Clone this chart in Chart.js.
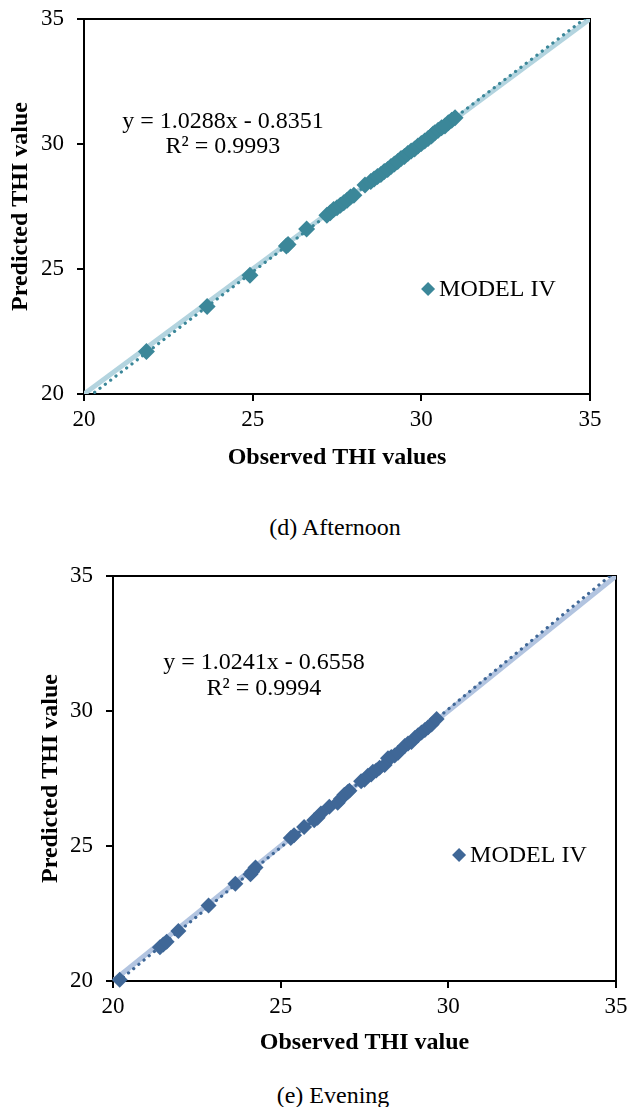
<!DOCTYPE html>
<html>
<head>
<meta charset="utf-8">
<script src="https://cdn.jsdelivr.net/npm/chart.js@4.4.1/dist/chart.umd.min.js"></script>
<style>
  html, body { margin: 0; padding: 0; background: #fff; }
  body { position: relative; width: 629px; height: 1107px; overflow: hidden; }
  canvas { position: absolute; left: 0; }
  .caption {
    position: absolute; left: 0; text-align: center;
    font-family: "Liberation Serif", "Times New Roman", serif;
    font-size: 24px; line-height: 28px; color: #000;
  }
</style>
</head>
<body>
<canvas id="afternoon" width="629" height="472" style="top:0px;width:629px;height:472px"></canvas>
<div class="caption" style="top:513px;width:670px">(d) Afternoon</div>
<canvas id="evening" width="629" height="497" style="top:560px;width:629px;height:497px"></canvas>
<div class="caption" style="top:1081px;width:666px">(e) Evening</div>
<script>
// axis range and ticks shared by both panels
const axisMin = 20;
const axisMax = 35;
const tickStep = 5;

// (d) afternoon: observed vs predicted THI
const afternoonObserved = [21.85, 23.65, 24.92, 26.0, 26.05, 26.6, 27.2, 27.3, 27.4, 27.5, 27.6, 27.7, 27.8, 27.9, 28.0,
  28.33, 28.5, 28.6, 28.7, 28.8, 28.9, 29.0, 29.1, 29.2, 29.3, 29.4, 29.5, 29.6, 29.7, 29.8, 29.9, 30.0,
  30.1, 30.2, 30.3, 30.35, 30.4, 30.5, 30.6, 30.7, 30.8, 30.9, 31.0];
const afternoonPredicted = [21.7, 23.5, 24.75, 25.92, 25.98, 26.6, 27.15, 27.25, 27.38, 27.45, 27.55, 27.65, 27.75, 27.88, 27.95,
  28.36, 28.5, 28.6, 28.7, 28.78, 28.9, 28.98, 29.1, 29.2, 29.3, 29.42, 29.5, 29.62, 29.72, 29.8, 29.92, 30.02,
  30.12, 30.22, 30.32, 30.4, 30.45, 30.55, 30.65, 30.72, 30.85, 30.95, 31.05];
const afternoonSlope = 1.0288;
const afternoonIntercept = -0.8351;
const afternoonR2 = 0.9993;

// (e) evening: observed vs predicted THI
const eveningObserved = [20.2, 21.4, 21.5, 21.6, 21.95, 22.85, 23.65, 24.1, 24.15, 24.25, 25.3, 25.4, 25.7, 26.0, 26.1,
  26.2, 26.45, 26.7, 26.8, 26.9, 27.0, 27.05, 27.4, 27.5, 27.6, 27.7, 27.75, 27.85, 27.95, 28.1, 28.2,
  28.3, 28.4, 28.5, 28.7, 28.8, 28.9, 29.0, 29.1, 29.2, 29.3, 29.4, 29.5, 29.65];
const eveningPredicted = [20.05, 21.25, 21.35, 21.45, 21.85, 22.8, 23.6, 23.95, 24.05, 24.2, 25.3, 25.4, 25.7, 25.95, 26.05,
  26.2, 26.45, 26.6, 26.75, 26.9, 27.0, 27.05, 27.4, 27.45, 27.6, 27.65, 27.75, 27.8, 27.9, 28.0, 28.25,
  28.3, 28.35, 28.45, 28.7, 28.8, 28.85, 29.0, 29.1, 29.2, 29.3, 29.4, 29.5, 29.7];
const eveningSlope = 1.0241;
const eveningIntercept = -0.6558;
const eveningR2 = 0.9994;

const seriesName = 'MODEL IV';
const serif = '"Liberation Serif", "Times New Roman", serif';

function toPoints(xs, ys) {
  return xs.map((x, i) => ({ x: x, y: ys[i] }));
}

// black frame round the plot area
const frame = {
  id: 'frame',
  beforeDatasetsDraw(chart) {
    const a = chart.chartArea, ctx = chart.ctx;
    ctx.save();
    ctx.strokeStyle = '#000';
    ctx.lineWidth = 2;
    ctx.strokeRect(a.left, a.top, a.right - a.left, a.bottom - a.top);
    ctx.restore();
  }
};

// regression equation and legend entry drawn inside the plot
const notes = {
  id: 'notes',
  afterDatasetsDraw(chart, args, opts) {
    const ctx = chart.ctx, sx = chart.scales.x, sy = chart.scales.y;
    ctx.save();
    ctx.fillStyle = '#000';
    ctx.font = '24px ' + serif;
    ctx.textAlign = 'center';
    ctx.textBaseline = 'middle';
    const ex = sx.getPixelForValue(opts.eqAt[0]);
    const ey = sy.getPixelForValue(opts.eqAt[1]);
    ctx.fillText(opts.eqText, ex, ey);
    ctx.fillText(opts.r2Text, ex, ey + opts.lineGap);

    const lx = sx.getPixelForValue(opts.legendAt[0]);
    const ly = sy.getPixelForValue(opts.legendAt[1]);
    const r = 7;
    ctx.fillStyle = opts.color;
    ctx.beginPath();
    ctx.moveTo(lx, ly - r);
    ctx.lineTo(lx + r, ly);
    ctx.lineTo(lx, ly + r);
    ctx.lineTo(lx - r, ly);
    ctx.closePath();
    ctx.fill();
    ctx.fillStyle = '#000';
    ctx.textAlign = 'left';
    ctx.fillText(seriesName, lx + 11, ly + 1);
    ctx.restore();
  }
};

function makeChart(id, o) {
  const ctx = document.getElementById(id).getContext('2d');
  const fitLine = [
    { x: axisMin, y: o.slope * axisMin + o.intercept },
    { x: axisMax, y: o.slope * axisMax + o.intercept }
  ];
  const oneToOne = [{ x: axisMin, y: axisMin }, { x: axisMax, y: axisMax }];
  const tickFont = { family: serif, size: 23 };
  const titleFont = { family: serif, size: 24, weight: 'bold' };
  const noPad = s => { s.paddingTop = 0; s.paddingBottom = 0; s.paddingLeft = 0; s.paddingRight = 0; };

  return new Chart(ctx, {
    type: 'scatter',
    data: {
      datasets: [
        {
          label: seriesName,
          data: toPoints(o.xs, o.ys),
          pointStyle: 'rectRot',
          pointRadius: o.markerSize,
          pointHoverRadius: o.markerSize,
          backgroundColor: o.color,
          borderColor: o.color,
          borderWidth: 0,
          clip: false,
          order: 0
        },
        {
          type: 'line',
          data: fitLine,
          borderColor: o.color,
          borderWidth: 3.2,
          borderDash: [0.1, 6.6],
          borderCapStyle: 'round',
          pointRadius: 0,
          fill: false,
          order: 1
        },
        {
          type: 'line',
          data: oneToOne,
          borderColor: o.light,
          borderWidth: 5,
          pointRadius: 0,
          fill: false,
          order: 2
        }
      ]
    },
    options: {
      responsive: false,
      animation: false,
      devicePixelRatio: 1,
      layout: { autoPadding: false, padding: o.padding },
      plugins: {
        legend: { display: false },
        tooltip: { enabled: false },
        notes: {
          eqText: o.eqText, r2Text: o.r2Text, eqAt: o.eqAt, lineGap: o.lineGap,
          legendAt: o.legendAt, color: o.color
        }
      },
      scales: {
        x: {
          type: 'linear', min: axisMin, max: axisMax,
          ticks: { stepSize: tickStep, color: '#000', font: tickFont, padding: 5 },
          grid: { drawOnChartArea: false, drawTicks: true, tickLength: 7, color: '#000', lineWidth: 2 },
          border: { display: false },
          title: { display: true, text: o.xTitle, color: '#000', font: titleFont, padding: { top: 0, bottom: 0 } },
          afterFit: s => { s.height = o.xHeight; noPad(s); }
        },
        y: {
          type: 'linear', min: axisMin, max: axisMax,
          ticks: { stepSize: tickStep, color: '#000', font: tickFont, padding: 13 },
          grid: { drawOnChartArea: false, drawTicks: true, tickLength: 7, color: '#000', lineWidth: 2 },
          border: { display: false },
          title: { display: true, text: 'Predicted THI value', color: '#000', font: titleFont, padding: { top: 6, bottom: 0 } },
          afterFit: s => { s.width = o.yWidth; noPad(s); }
        }
      }
    },
    plugins: [frame, notes]
  });
}

makeChart('afternoon', {
  xs: afternoonObserved, ys: afternoonPredicted,
  slope: afternoonSlope, intercept: afternoonIntercept,
  color: '#3B8799', light: '#B3D4DF', markerSize: 8.5,
  eqText: 'y = ' + afternoonSlope.toFixed(4) + 'x - ' + Math.abs(afternoonIntercept).toFixed(4),
  r2Text: 'R² = ' + afternoonR2.toFixed(4),
  eqAt: [24.12, 30.88], lineGap: 25, legendAt: [30.2, 24.2],
  xTitle: 'Observed THI values',
  padding: { left: 0, right: 39, top: 19, bottom: 0 },
  xHeight: 78, yWidth: 84
});

makeChart('evening', {
  xs: eveningObserved, ys: eveningPredicted,
  slope: eveningSlope, intercept: eveningIntercept,
  color: '#3F6797', light: '#B2C4E0', markerSize: 8,
  eqText: 'y = ' + eveningSlope.toFixed(4) + 'x - ' + Math.abs(eveningIntercept).toFixed(4),
  r2Text: 'R² = ' + eveningR2.toFixed(4),
  eqAt: [24.5, 31.78], lineGap: 26, legendAt: [30.32, 24.67],
  xTitle: 'Observed THI value',
  padding: { left: 30, right: 13, top: 16, bottom: 0 },
  xHeight: 76, yWidth: 83
});
</script>
</body>
</html>
